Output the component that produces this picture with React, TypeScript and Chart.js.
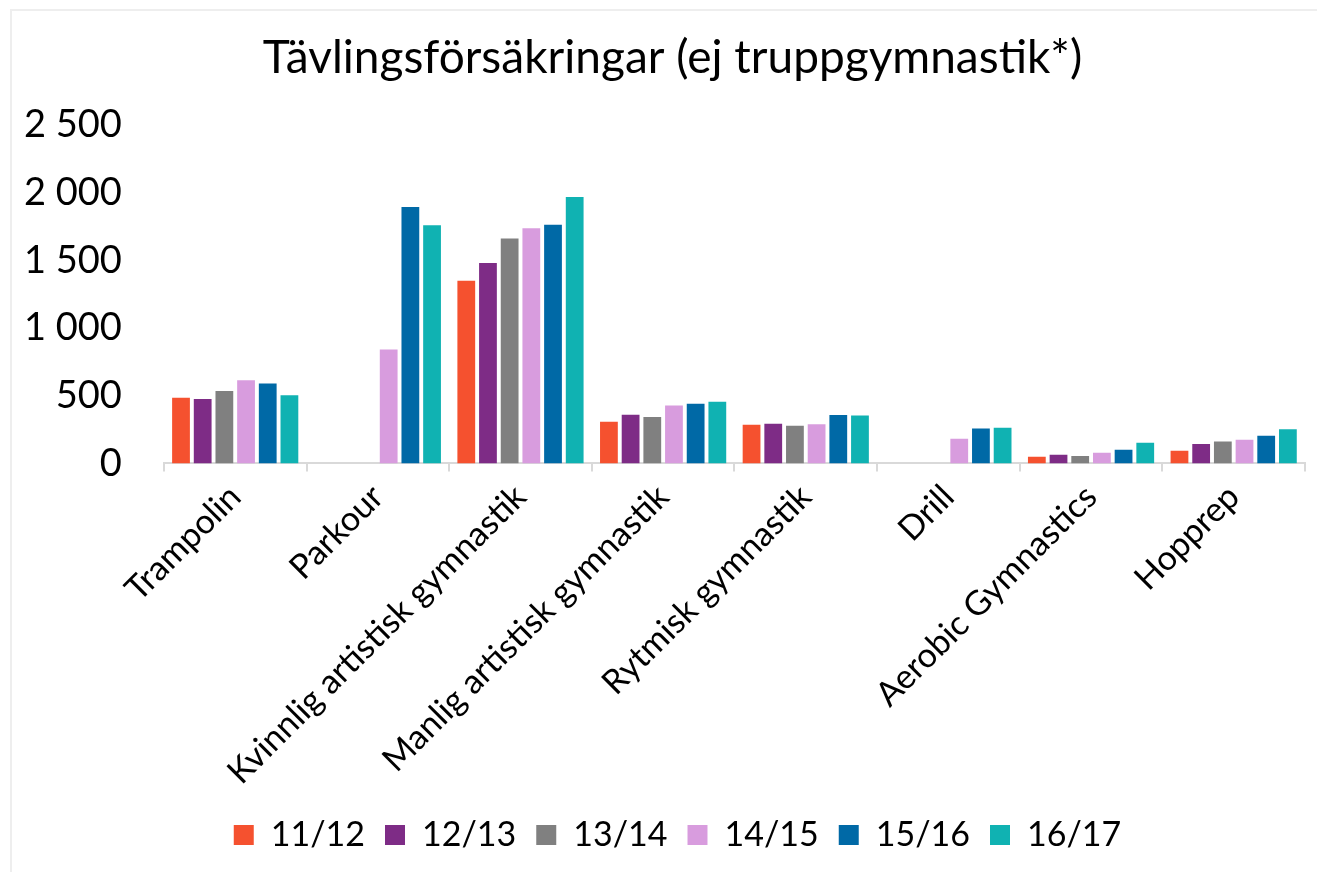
import React, { useEffect, useRef } from "react";
import { Chart, registerables } from "chart.js";

Chart.register(...registerables);

const categories = [
  "Trampolin",
  "Parkour",
  "Kvinnlig artistisk gymnastik",
  "Manlig artistisk gymnastik",
  "Rytmisk gymnastik",
  "Drill",
  "Aerobic Gymnastics",
  "Hopprep",
];

const seasons = ["11/12", "12/13", "13/14", "14/15", "15/16", "16/17"];
const colors = ["#F5512F", "#7E2C86", "#808080", "#D89CDE", "#0069A6", "#10B2B2"];

const s1112 = [486, null, 1351, 307, 285, null, 49, 94];
const s1213 = [476, null, 1481, 359, 293, null, 64, 143];
const s1314 = [535, null, 1663, 342, 278, null, 54, 162];
const s1415 = [614, 842, 1739, 428, 290, 182, 79, 175];
const s1516 = [590, 1896, 1764, 440, 357, 258, 101, 204];
const s1617 = [503, 1761, 1970, 455, 354, 263, 152, 253];

const seriesValues = [s1112, s1213, s1314, s1415, s1516, s1617];

const yTicks = [0, 500, 1000, 1500, 2000, 2500];

const FONT = "Lato, 'Noto Sans', sans-serif";

function fmt(v: number): string {
  return String(v).replace(/\B(?=(\d{3})+(?!\d))/g, " ");
}

// Centre the title and legend like the reference does.
const shiftBlocks = {
  id: "shiftBlocks",
  afterLayout(chart: any) {
    const t = chart.titleBlock;
    if (t) {
      t.left += 25;
      t.right += 25;
    }
    const l = chart.legend;
    if (l) {
      l.left += 30;
      l.right += 30;
    }
  },
};

export default function App() {
  const ref = useRef<HTMLCanvasElement | null>(null);

  useEffect(() => {
    if (!ref.current) return;
    const chart = new Chart(ref.current, {
      type: "bar",
      data: {
        labels: categories,
        datasets: seasons.map((s, i) => ({
          label: s,
          data: seriesValues[i],
          backgroundColor: colors[i],
          borderWidth: 0,
          categoryPercentage: 0.912,
          barPercentage: 0.82,
        })),
      },
      plugins: [shiftBlocks],
      options: {
        responsive: false,
        animation: false,
        layout: { padding: { left: -10, right: 12, top: 31, bottom: 10 } },
        plugins: {
          title: {
            display: true,
            text: "Tävlingsförsäkringar (ej truppgymnastik*)",
            color: "#000",
            font: { family: FONT, size: 46, weight: "normal" },
            padding: { top: 0, bottom: 39 },
          },
          legend: {
            position: "bottom",
            labels: {
              color: "#000",
              boxWidth: 20,
              boxHeight: 20,
              padding: 20,
              font: { family: FONT, size: 34 },
            },
          },
          tooltip: { enabled: false },
        },
        scales: {
          x: {
            afterFit: (axis: any) => {
              axis.paddingLeft = 0;
              axis.paddingRight = 0;
            },
            grid: {
              display: true,
              drawOnChartArea: false,
              offset: true,
              tickLength: 8,
              color: "#d9d9d9",
              lineWidth: 2,
            },
            border: { display: true, color: "#d9d9d9", width: 2 },
            ticks: {
              color: "#000",
              minRotation: 45,
              maxRotation: 45,
              padding: 5.5,
              font: { family: FONT, size: 34 },
            },
          },
          y: {
            min: 0,
            max: 2500,
            afterBuildTicks: (axis: any) => {
              axis.ticks = yTicks.map((v) => ({ value: v }));
            },
            grid: { display: false },
            border: { display: false },
            ticks: {
              color: "#000",
              padding: 34,
              font: { family: FONT, size: 38 },
              callback: (v: any) => fmt(Number(v)),
            },
          },
        },
      },
    });
    return () => chart.destroy();
  }, []);

  return (
    <div style={{ position: "absolute", left: 0, top: 0, width: 1317, height: 872, background: "#fff" }}>
      <div
        style={{
          position: "absolute",
          left: 10,
          top: 9,
          right: 0,
          bottom: 0,
          borderLeft: "2px solid #eeeeee",
          borderTop: "2px solid #eeeeee",
        }}
      />
      <canvas ref={ref} width={1317} height={872} style={{ position: "absolute", left: 0, top: 0 }} />
    </div>
  );
}
